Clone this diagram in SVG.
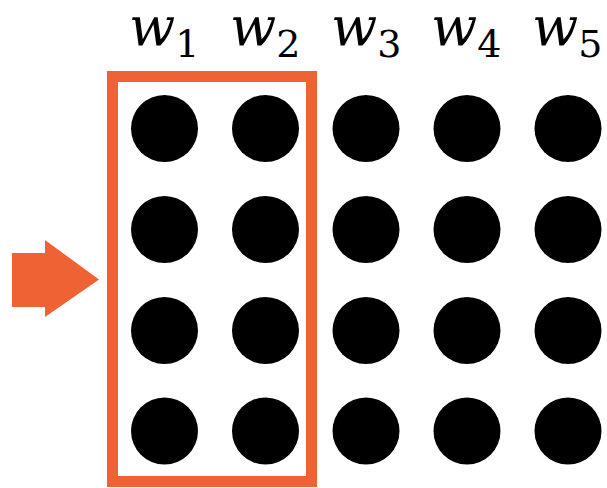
<svg xmlns="http://www.w3.org/2000/svg" width="607" height="488" viewBox="0 0 607 488">
<style>
.lbl{font-family:"DejaVu Serif","Liberation Serif",serif;font-style:italic;font-size:54px;fill:#000}
.sub{font-style:normal;font-size:38px}
.dot{fill:#000}
</style>
<rect width="607" height="488" fill="#fff"/>
<g id="labels">
<text class="lbl" x="129" y="45">w<tspan class="sub" dy="12">1</tspan></text>
<text class="lbl" x="230" y="45">w<tspan class="sub" dy="12">2</tspan></text>
<text class="lbl" x="331" y="45">w<tspan class="sub" dy="12">3</tspan></text>
<text class="lbl" x="431" y="45">w<tspan class="sub" dy="12">4</tspan></text>
<text class="lbl" x="532" y="45">w<tspan class="sub" dy="12">5</tspan></text>
</g>
<g id="dots">
<g id="col1"><circle class="dot" cx="164.5" cy="128.5" r="33.5"/><circle class="dot" cx="164.5" cy="229.5" r="33.5"/><circle class="dot" cx="164.5" cy="330.5" r="33.5"/><circle class="dot" cx="164.5" cy="431" r="33.5"/></g>
<g id="col2"><circle class="dot" cx="265.5" cy="128.5" r="33.5"/><circle class="dot" cx="265.5" cy="229.5" r="33.5"/><circle class="dot" cx="265.5" cy="330.5" r="33.5"/><circle class="dot" cx="265.5" cy="431" r="33.5"/></g>
<g id="col3"><circle class="dot" cx="366" cy="128.5" r="33.5"/><circle class="dot" cx="366" cy="229.5" r="33.5"/><circle class="dot" cx="366" cy="330.5" r="33.5"/><circle class="dot" cx="366" cy="431" r="33.5"/></g>
<g id="col4"><circle class="dot" cx="467" cy="128.5" r="33.5"/><circle class="dot" cx="467" cy="229.5" r="33.5"/><circle class="dot" cx="467" cy="330.5" r="33.5"/><circle class="dot" cx="467" cy="431" r="33.5"/></g>
<g id="col5"><circle class="dot" cx="568" cy="128.5" r="33.5"/><circle class="dot" cx="568" cy="229.5" r="33.5"/><circle class="dot" cx="568" cy="330.5" r="33.5"/><circle class="dot" cx="568" cy="431" r="33.5"/></g>
</g>
<g id="window">
<rect x="112.5" y="76.5" width="199" height="405" fill="none" stroke="#EE6234" stroke-width="11"/>
</g>
<g id="connectors">
<polygon id="arrow" points="12,253 45,253 45,240 99,279.5 45,317 45,307 12,307" fill="#EE6234"/>
</g>
</svg>
